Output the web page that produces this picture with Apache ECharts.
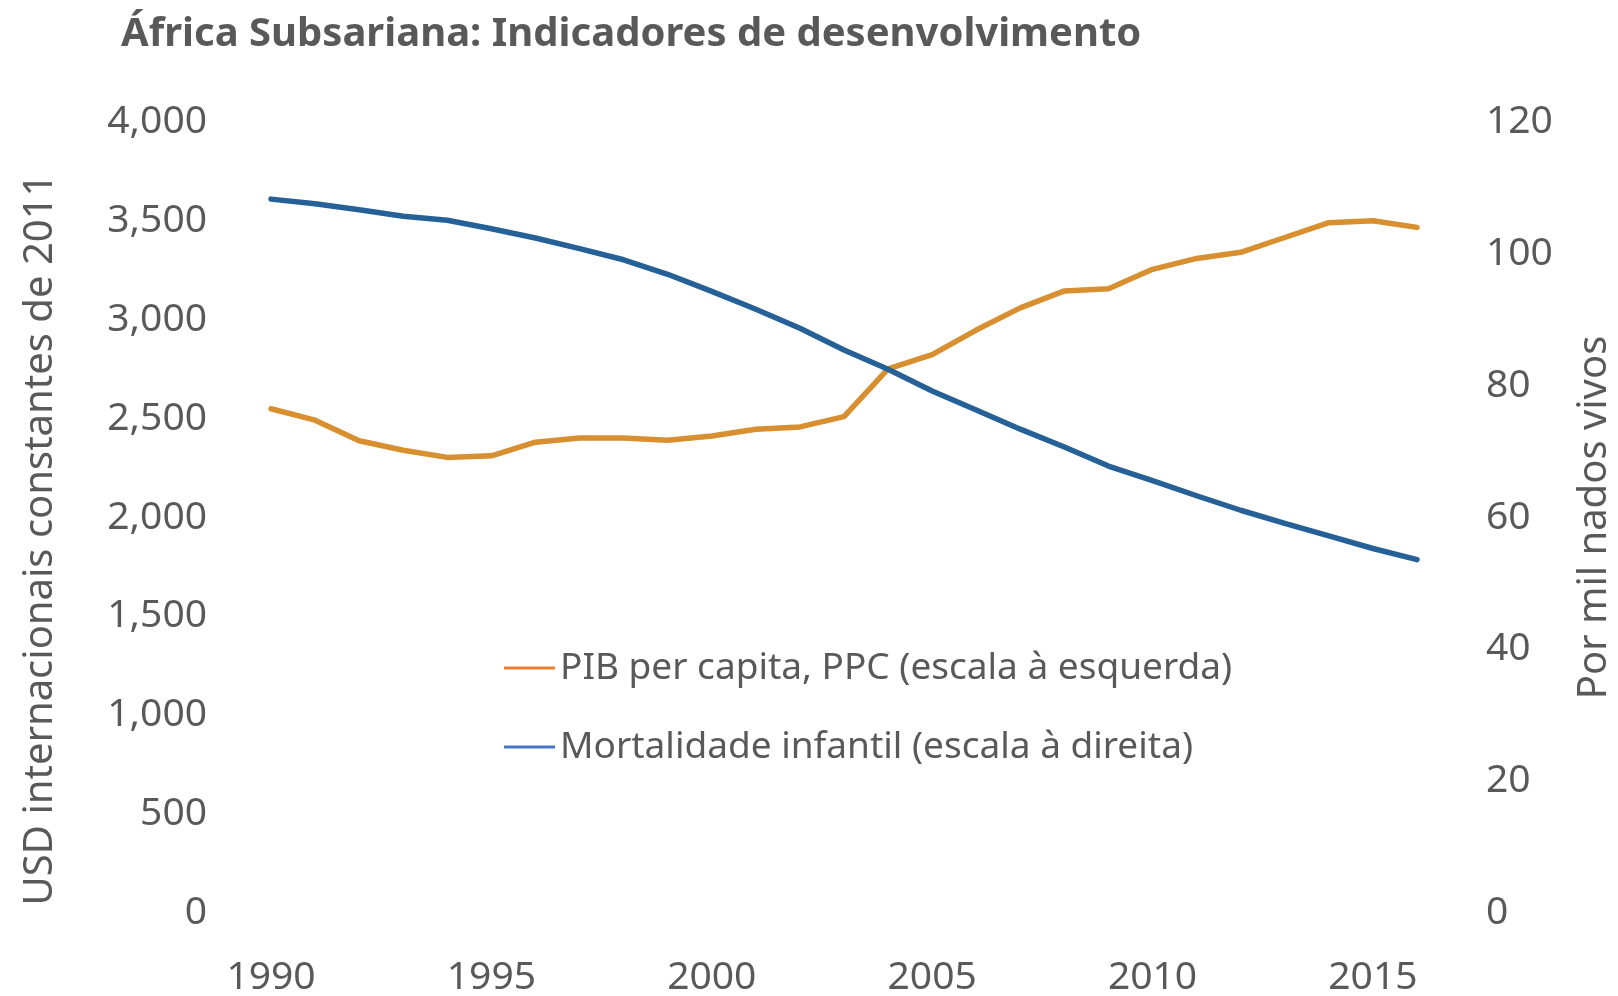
<!DOCTYPE html>
<html lang="pt">
<head>
    <meta charset="UTF-8">
    <title>África Subsariana</title>
    <script src="https://cdn.jsdelivr.net/npm/echarts@6/dist/echarts.min.js"></script>
    <style>
        html, body { margin: 0; padding: 0; background: #fff; }
        #main { width: 1618px; height: 996px; }
    </style>
</head>
<body>
<div id="main"></div>
<script type="text/javascript">
    // anos
    var anos = ["1990","1991","1992","1993","1994","1995","1996","1997","1998","1999",
        "2000","2001","2002","2003","2004","2005","2006","2007","2008","2009",
        "2010","2011","2012","2013","2014","2015","2016"];

    // PIB per capita, PPC (USD internacionais constantes de 2011)
    var pib = [2550, 2492, 2388, 2340, 2304, 2312, 2381, 2402, 2402, 2391,
        2412, 2446, 2458, 2510, 2752, 2824, 2948, 3060, 3146, 3157,
        3255, 3310, 3341, 3416, 3491, 3501, 3467];

    // Mortalidade infantil (por mil nados vivos)
    var mortalidade = [108.3, 107.6, 106.7, 105.7, 105.1, 103.8, 102.4, 100.8, 99.1, 96.9,
        94.3, 91.6, 88.7, 85.4, 82.5, 79.2, 76.3, 73.4, 70.7, 67.8,
        65.6, 63.3, 61.1, 59.1, 57.2, 55.3, 53.6];

    var nomePib = "PIB per capita, PPC (escala à esquerda)";
    var nomeMort = "Mortalidade infantil (escala à direita)";

    var cinza = "#595959";
    var fonte = "'Noto Sans', 'Open Sans', sans-serif";

    var myChart = echarts.init(document.getElementById("main"));

    var option = {
        backgroundColor: "#ffffff",
        animation: false,
        title: {
            text: "África Subsariana: Indicadores de desenvolvimento",
            left: 116,
            top: 10,
            textStyle: {
                color: cinza,
                fontFamily: fonte,
                fontWeight: "bold",
                fontSize: 40
            }
        },
        legend: {
            orient: "vertical",
            left: 499,
            top: 640,
            itemWidth: 51,
            itemHeight: 3,
            itemGap: 33,
            icon: "rect",
            data: [
                {name: nomePib, itemStyle: {color: "#EE7F30"}},
                {name: nomeMort, itemStyle: {color: "#4774C4"}}
            ],
            textStyle: {
                color: cinza,
                fontFamily: fonte,
                fontSize: 37,
                lineHeight: 46
            }
        },
        grid: {
            left: 271,
            right: 201,
            top: 122,
            bottom: 83,
            containLabel: false,
            outerBoundsMode: "none"
        },
        xAxis: {
            type: "category",
            data: anos,
            boundaryGap: false,
            axisLine: {show: false},
            axisTick: {show: false},
            splitLine: {show: false},
            axisLabel: {
                interval: 4,
                margin: 45,
                color: cinza,
                fontFamily: fonte,
                fontSize: 39
            }
        },
        yAxis: [
            {
                type: "value",
                min: 0,
                max: 4000,
                interval: 500,
                name: "USD internacionais constantes de 2011",
                nameLocation: "middle",
                nameRotate: 90,
                nameGap: 210,
                nameTextStyle: {
                    color: cinza,
                    fontFamily: fonte,
                    fontSize: 40,
                    padding: [0, 44, 0, 0]
                },
                axisLine: {show: false},
                axisTick: {show: false},
                splitLine: {show: false},
                axisLabel: {
                    margin: 64,
                    color: cinza,
                    fontFamily: fonte,
                    fontSize: 39,
                    formatter: function (v) {
                        return v.toString().replace(/\B(?=(\d{3})+(?!\d))/g, ",");
                    }
                }
            },
            {
                type: "value",
                min: 0,
                max: 120,
                interval: 20,
                name: "Por mil nados vivos",
                nameLocation: "middle",
                nameRotate: 90,
                nameGap: 158,
                nameTextStyle: {
                    color: cinza,
                    fontFamily: fonte,
                    fontSize: 40
                },
                axisLine: {show: false},
                axisTick: {show: false},
                splitLine: {show: false},
                axisLabel: {
                    margin: 69,
                    color: cinza,
                    fontFamily: fonte,
                    fontSize: 39
                }
            }
        ],
        series: [
            {
                name: nomePib,
                type: "line",
                yAxisIndex: 0,
                data: pib,
                showSymbol: false,
                symbol: "none",
                lineStyle: {color: "#D78F30", width: 5.5, cap: "round", join: "round"},
                itemStyle: {color: "#D78F30"}
            },
            {
                name: nomeMort,
                type: "line",
                yAxisIndex: 1,
                data: mortalidade,
                showSymbol: false,
                symbol: "none",
                lineStyle: {color: "#256097", width: 5.5, cap: "round", join: "round"},
                itemStyle: {color: "#256097"}
            }
        ]
    };

    myChart.setOption(option);
</script>
</body>
</html>
